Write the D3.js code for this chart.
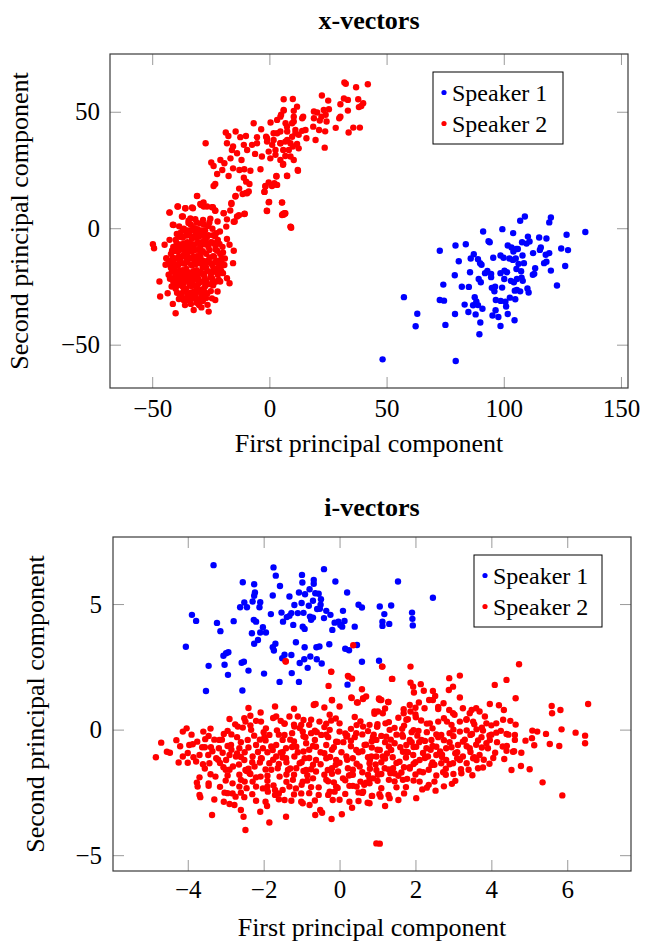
<!DOCTYPE html>
<html><head><meta charset="utf-8">
<script src="https://cdn.jsdelivr.net/npm/d3@7"></script>
<style>
body{margin:0;background:#fff}
svg{display:block}
text{font-family:"Liberation Serif","Times New Roman",serif;fill:#000}
</style>
</head><body><svg id="c" width="649" height="941"></svg>
<script>
const seriesNames = ["Speaker 1", "Speaker 2"];
const seriesColors = ["#0000ff", "#ff0000"];
const xvecTicksX = [-50, 0, 50, 100, 150];
const xvecTicksY = [-50, 0, 50];
const ivecTicksX = [-4, -2, 0, 2, 4, 6];
const ivecTicksY = [-5, 0, 5];

const xvecSpeaker1 = [[109,5],[107,3.2],[120.1,4.6],[119.4,2.5],[91.2,-1.4],[99.4,-0.4],[104,-2.1],[134.8,-1.6],[126.8,-2.8],[110.3,-3.6],[115.1,-4],[118.2,-4.4],[107.8,-6],[111,-5.7],[109.7,-6.6],[93.5,-5.6],[94,-6],[79.4,-7.4],[83.8,-6.9],[72.7,-9.7],[101.7,-7.4],[103.3,-8.3],[105.3,-8.9],[106,-8.9],[104.1,-10],[115.8,-8.3],[115.4,-9.3],[124.5,-8.7],[127.4,-9.4],[112.5,-10.7],[117.9,-11.4],[119.4,-10.7],[108,-11.7],[87.2,-11.2],[85.9,-13],[89,-13.3],[89.9,-15],[90.5,-15.7],[95.5,-12.7],[98.6,-11.7],[99.9,-12.7],[102.4,-13],[103.9,-13.6],[105.1,-13],[106.3,-15.3],[108.6,-15],[117.2,-15],[118.2,-14.4],[126.2,-16.2],[80.8,-14.2],[113.4,-17.2],[120.1,-18.2],[112.4,-20],[113,-19.6],[85.6,-18.9],[79.1,-20.2],[92,-19.3],[93,-18.3],[94.6,-19.6],[98.6,-19.3],[100.3,-18.2],[101.4,-18.9],[105.4,-17.5],[107.4,-18.5],[89.3,-21.8],[90.2,-23.2],[94.6,-21],[100.2,-21.8],[103,-22.6],[104.3,-23.2],[105.6,-21.8],[107.6,-21.2],[108.1,-22.6],[74.2,-24.2],[82.1,-25.1],[85.1,-25.2],[94.9,-25.6],[96.3,-25.1],[99.3,-25.5],[104.7,-26.8],[105.6,-26.5],[107,-27.1],[110.1,-25.9],[110.6,-27.6],[122.7,-24.6],[96,-27.1],[57.4,-29.6],[72.7,-30.8],[74.5,-31.1],[87.6,-29.6],[88.3,-31.4],[96.6,-30.8],[98.7,-31.2],[100.7,-31.6],[102.6,-29.8],[104.9,-30.5],[83.3,-32.8],[86.9,-33.1],[89,-33],[90.9,-34.6],[101,-33.6],[96.5,-35.2],[84.9,-36],[88,-37],[63.1,-36.7],[79.2,-36.8],[95.2,-37.5],[97.7,-38.1],[101.7,-36.8],[104.6,-39.5],[62.4,-42.1],[75.1,-41.5],[90,-40.5],[98.6,-42],[89.6,-45.5],[48.3,-56.3],[79.5,-57]];

const xvecSpeaker2 = [
[-30.8,13.9],[-42.6,6.8],[-39,9.3],[-35.8,8.6],[-33,8.9],[-29.1,10],[-28.1,11.1],[-26.6,9.3],[-24.1,9],[-23.1,7.6],[-19.5,6.5],[-16.2,10.8],[-16.7,7.6],[-14.4,13.9],[-13,5.6],[-10.5,6.2],[-10,15.1],[-8.8,15.8],[-2.1,15.6],[-0.1,11.3],[-1.1,7.5],[5.4,11.1],[6,5.8],[9.1,0.5],[6.6,6.2],[-41.2,1.5],[-36.9,5],[-34.5,2.2],[-31.6,3.9],[-28.3,3.6],[-25.6,2.5],[-22.1,2.9],[-18.4,0.7],[-14.8,2.9],[-21.1,-1.4],[-22.7,-2.1],[-18.1,-4.6],[-17,-7.1],[-15.2,-9.7],[-15.5,-15],[-21,-16.5],[-19.8,-19.3],[-18.1,-21.5],[-17,-23.6],[-21,-22.9],[-23.1,-30.8],[-26.4,-32.9],[-25.9,-35.8],[-32.3,-35.1],[-40,-36.5],[-41.2,-32.5],[-46.6,-29.3],[-46.9,-22.9],[-43.4,-27.9],[-49.7,-6.9],[-49.2,-8.6],[-44.7,-7.1],[-42.6,-5],[-44,-12.9],[-44.3,-15.7],[-41.6,-21.5],[-41.7,-25],[-36.6,-30.8],[-30.2,-31.5],[-24.5,-30.1],[-22.1,-27.2],
[-38,-2],[-35,-1],[-32,0],[-29,-1],[-26,1],[-24,-3],[-40,-5],[-37,-4],[-34,-3],[-31,-4],[-28,-3],[-25,-6],[-22,-5],[-41,-8],[-38,-7],[-35,-6],[-32,-7],[-29,-6],[-26,-8],[-23,-9],[-20,-8],[-42,-11],[-39,-10],[-36,-9],[-33,-10],[-30,-9],[-27,-11],[-24,-12],[-21,-11],[-43,-14],[-40,-13],[-37,-12],[-34,-13],[-31,-12],[-28,-14],[-25,-15],[-22,-14],[-19,-13],[-42,-17],[-39,-16],[-36,-15],[-33,-16],[-30,-15],[-27,-17],[-24,-18],[-21,-17],[-43,-20],[-40,-19],[-37,-18],[-34,-19],[-31,-18],[-28,-20],[-25,-21],[-22,-20],[-41,-23],[-38,-22],[-35,-21],[-32,-22],[-29,-23],[-26,-24],[-23,-23],[-40,-26],[-37,-25],[-34,-24],[-31,-25],[-28,-26],[-25,-27],[-38,-29],[-35,-28],[-32,-27],[-29,-29],[-27,-30],[-34,-31],[-31,-32],[-36,-33],[-29,-34],[-33.5,-8.5],[-30.5,-13.5],[-35.5,-17.5],[-32.5,-20.5],[-29.5,-10.5],[-36.5,-11.5],[-26.5,-14.5],[-38.5,-20.5],[-39.5,-2.5],[-36.5,-6.5],[-33,-4.5],[-30,-2.5],[-27.5,-5],[-23.5,-6.5],[-41.5,-9.5],[-38.5,-13.5],[-35,-11],[-31.5,-15.5],[-28.5,-17],[-25.5,-12.5],[-22.5,-17.5],[-40.5,-17],[-37.5,-21],[-34.5,-22.5],[-30.5,-20],[-27,-22.5],[-24,-24.5],[-39,-24.5],[-35.5,-26],[-32.5,-24.5],[-29.5,-26.5],[-26.5,-28],[-36.5,-30],[-33,-29.5],[-30.5,-30.5],[-37,-1],[-33.5,1.5],[-30.5,-6],[-26,-3],
[-36.5,-0.2],[-33.2,-0.8],[-30.6,-0.4],[-27.4,-0.9],[-24.3,-0.2],[-38.4,-3.7],[-35.6,-3.2],[-32.4,-3.8],[-29.6,-3.3],[-26.7,-3.9],[-23.2,-3.4],[-39.6,-6.3],[-33.7,-6.8],[-30.3,-6.2],[-27.6,-6.9],[-24.4,-6.1],[-21.3,-6.7],[-40.4,-9.8],[-37.6,-9.2],[-34.3,-9.7],[-31.7,-9.3],[-28.4,-9.9],[-25.6,-9.4],[-22.3,-9.7],[-19.8,-10.4],[-41.3,-12.7],[-38.7,-12.2],[-35.4,-12.8],[-32.6,-12.3],[-29.4,-12.6],[-23.6,-12.2],[-20.4,-12.8],[-42.6,-15.3],[-39.4,-15.8],[-36.7,-15.2],[-33.4,-15.7],[-27.6,-15.4],[-24.3,-15.9],[-21.7,-15.2],[-19.2,-15.8],[-41.6,-18.7],[-38.3,-18.2],[-35.7,-18.8],[-32.3,-18.4],[-29.6,-18.9],[-26.4,-18.3],[-23.7,-18.7],[-20.6,-18.2],[-42.4,-21.7],[-39.6,-21.2],[-36.4,-21.8],[-33.6,-21.3],[-30.4,-21.7],[-27.6,-21.2],[-24.4,-21.6],[-21.6,-22.2],[-40.3,-24.7],[-37.7,-24.2],[-33.4,-24.8],[-30.6,-24.3],[-27.4,-24.9],[-24.6,-24.2],[-39.4,-27.7],[-36.6,-27.2],[-33.3,-27.6],[-30.7,-27.3],[-27.3,-27.8],[-38.6,-30.4],[-35.4,-30.8],[-32.7,-30.2],[-28.4,-31.2],[-34.5,3.2],[-31,2.4],[-28,1.6],[-38.5,0.8],[-25.2,4.1],
[-35,-2.3],[-31.5,-1.8],[-28,-2],[-39,-8.3],[-36,-7.8],[-33,-7.2],[-29.5,-7.8],[-26,-6.8],[-23,-7.4],[-41,-14.5],[-38,-14],[-35,-14.5],[-32,-14],[-29,-14.7],[-26,-13.8],[-23,-14.5],[-20.5,-14.2],[-40,-20.2],[-37,-19.8],[-34,-20.5],[-31,-20],[-28,-19.5],[-25,-19.8],[-22,-18.8],[-39.5,-23],[-36.5,-23.5],[-33,-23],[-30,-23.5],[-27,-23],[-24,-22.8],[-37.5,-28],[-34.5,-29],[-31.5,-28.5],[-28.5,-28.3],[-33.5,-32.5],[-30,-33],
[6.1,55.4],[10,55.5],[11.8,52.2],[6.1,50.5],[10.4,50.4],[5,48.7],[3.3,46.5],[-6.7,45.1],[0.5,45.4],[6.9,45.1],[10.4,45.8],[-3.5,42.5],[-18.6,41.1],[-17.5,39.6],[-14.4,41.5],[-12.4,39.1],[-10,39.6],[-5.3,39.1],[-1.4,39.3],[3.3,40.8],[7.6,41.5],[11.1,40.8],[-27.2,36.5],[-18.1,36.5],[-15.5,35.1],[-10.9,35.8],[-7.4,35.8],[-5.3,36.5],[-1,37.2],[1.2,35.8],[4.7,36.5],[7.6,37.9],[10,35.1],[-16,33.6],[-13.8,32.2],[-9.5,33.6],[-6.1,31.9],[-3.2,30.8],[-0.3,32.9],[2.6,31.5],[5.9,33.6],[9,30.8],[-24.8,28.2],[-23.8,26.7],[-20.9,29.3],[-19.2,27.9],[-16.6,30],[-11.9,29.3],[-3.8,25.3],[5.9,27.6],[12.1,25],[-22.3,23.3],[-20.1,25],[-17.4,22.4],[-15.5,25.7],[-12.8,25],[-10.7,25.3],[-8.1,24.7],[-10.9,21.7],[-9.9,20],[-8.5,19],[-23.1,19],[-23.8,18.1],[-12.9,17],[-11.4,14.7],[-9.5,15],[-14.5,13.6],[-16.2,10.4],[-1.7,17.9],[-0.3,19.6],[1.4,18.6],[3.3,18.6],[3,22.4],[7.6,22.4],[-2.1,15.7],[-0.3,11.1],[5.4,11],[5.4,5.7],[6.4,6.4],[-1,7.4],[9,0.7],[-30.9,13.8],[-39.2,9.3],[-35.9,8.6],[-32.6,8.6],[-29.5,10.4],[-28,9.3],[-24.5,9],[-23.1,7.5],[-19.5,6.4],[-18.1,3.8],[-15.2,2.8],[-13.8,5],[-10.7,6.1],[-42.6,6.7],[-40.9,1.4],[-37.3,5],[-33.7,4.2],[-29.5,2.1],
[32,62.6],[32.6,62],[37,60.5],[42,61.8],[22.4,57],[25.1,54.8],[31.8,55.7],[33.5,55.1],[37.9,55.4],[40,53.7],[38.2,52],[39.2,52.5],[30.3,53.2],[33.5,50.5],[19,50.1],[20.4,49.7],[23.2,50.8],[25.4,51.1],[24,48.7],[22.2,47.9],[21.5,46.2],[19,47.2],[14.4,47.9],[14,47.2],[30.3,47.9],[29.8,47.2],[24.4,45.8],[28.3,43.1],[18.7,43.6],[21.2,42.2],[23.8,41.6],[35.8,43.2],[38.6,43.2],[33.8,41.1],[15.4,42.2],[14,41.8],[12.5,40.1],[15.8,38.6],[19.7,37.9],[11.8,36.2],[12.5,34.3],[23.6,34.6],[9,36.5],[10.4,29.3],[12.2,24.7],[7.5,22.5],[5.8,27.2],[3,22.2],[2.1,19.3],[1.1,18.1],[-1.7,18.1],[5.8,6.1],[6.8,6.4],[9.3,0.2],[0.4,30],[2.6,33.6],[4.7,29.3],[6.8,31],[8.3,33.6],[-1,38.6],[1.8,37.9],[4.7,36.5],[6.8,37.2],[9.7,39.3],[11.1,42.2],[9.7,45.1],[7.5,43.6],[4.7,41.5],[1.8,40.8],[10.4,47.9],[4.7,47.9],[6.1,50.8]
];

const ivecSpeaker1 = [[-3.32,6.55],[-1.74,6.46],[-1.68,6.13],[-0.99,6.16],[-0.41,6.39],[-0.98,5.86],[-0.68,5.96],[-0.68,5.81],[-0.11,5.9],[1.54,5.9],[-2.55,5.87],[-2.25,5.79],[-1.57,5.72],[-2.23,5.46],[-2.25,5.33],[-2.29,5.1],[-2.09,5.07],[-2.11,4.87],[-2.51,5.06],[-2.62,4.87],[-2.44,4.87],[-1.76,5.34],[-1.32,5.3],[-1.07,5.46],[-0.91,5.39],[-1,5.04],[-1.19,4.96],[-0.79,5.59],[-0.64,5.43],[-0.55,5.41],[-0.7,5.13],[-0.49,5.19],[-0.5,4.97],[-0.59,4.8],[-0.52,4.81],[-0.81,4.93],[0.2,5.46],[0.5,4.97],[0.59,4.86],[1.06,4.9],[1.36,4.94],[-0.35,4.73],[-0.24,4.57],[0.09,4.73],[-0.41,4.44],[-3.89,4.57],[-3.78,4.33],[-3.23,4.25],[-2.79,4.32],[-3.14,3.92],[-1.81,4.6],[-1.53,4.66],[-1.27,4.64],[-1.1,4.64],[-0.95,4.65],[-1.39,4.48],[-1.32,4.53],[-1.49,4.3],[-0.78,4.5],[-0.7,4.46],[-0.75,4.37],[-2.26,4.37],[-2.2,4.3],[-2.02,4.08],[-2.09,3.87],[-1.94,3.87],[-2.31,3.84],[-1.22,4.17],[-0.97,4.1],[-0.92,4.01],[-0.19,3.97],[-0.13,4.26],[-0.03,4.3],[0.02,4.17],[0.07,4.1],[0.13,4.33],[0.4,4.1],[1.13,4.3],[1.13,4.13],[1.31,4.21],[-2.15,3.57],[-2.25,3.42],[-4.05,3.3],[-2.93,3.08],[-2.99,3.04],[-3.06,2.94],[-1.69,3.42],[-1.76,3.28],[-1.73,3.15],[-1.15,3.48],[-0.92,3.28],[-0.61,3.28],[-0.53,3.31],[-0.27,3.4],[0.15,3.22],[0.25,3.16],[0.46,3.37],[-1.27,2.97],[-1.45,2.98],[-1.51,2.84],[-0.77,2.91],[-0.93,2.8],[-1.05,2.65],[-0.6,2.8],[-0.47,2.63],[-0.84,2.46],[0.59,2.7],[1.04,2.74],[-3.45,2.54],[-3.03,2.58],[-2.58,2.66],[-2.52,2.7],[-2.4,2.35],[-2.94,2.18],[-1.99,2.23],[-1.26,2.25],[-1.58,1.9],[-1.07,1.9],[0.21,1.79],[-3.52,1.54],[-2.56,1.56],[2.46,5.25],[1.91,4.66],[1.92,4.41],[1.93,4.15],[1.18,4.6]];

const ivecSpeaker2 = [
[0.36,3.36],[-1.42,2.72],[1.13,2.51],[-0.22,2.3],[0.24,2.11],[0.33,2.03],[1.38,2.02],[-0.29,1.74],[0.59,1.61],[0.32,1.26],[0.62,1.22],[0.7,1.32],[0.46,1.08],[-0.2,1.17],[1.04,1.24],[1.07,1.18],[1.28,1.1],[-1.7,0.92],[-0.68,0.98],[-0.63,1.02],[0,0.92],[1.12,2.51],
[-1.42,2.71],[-0.22,2.31],[0.22,2.14],[-2.08,0.68],[-0.66,1.01],[-0.2,1.18],[0.31,1.28],[0.48,1.08],[0.62,1.25],[0.92,0.72],[0.99,0.12],[-4.13,-0.08],[-4.03,0.05],[-4.7,-0.52],[-4.84,-1.1],[-4.47,-0.92],[-4.24,-1.31],[-4.13,-1.07],[-3.96,-0.61],[-3.87,-0.58],[-3.78,-1.27],[-3.69,-1.01],[-3.62,-0.7],[-3.59,-0.08],[-3.54,-0.38],[-3.46,-1.01],[-3.43,-1.34],[-3.39,-0.7],[-3.76,-2.11],[-3.74,-2.27],[-3.69,-1.9],[-3.69,-2.6],[-3.67,-2.69],[-3.45,-2.14],[-3.45,-2.24],[-3.27,-1.87],[-3.36,-3.4],[-3.05,-0.17],[-3.17,-0.41],[-3.18,-0.74],[-3.08,-0.92],[-2.99,-1.21],[-3.06,-1.5],[-3.03,-2.51],[-3.05,-2.87],[-2.9,-2.96],[-2.77,-3],[-2.82,-2.54],[-2.74,-2.67],[-2.6,-2.51],[-2.51,-2.69],[-2.6,-3.2],[-2.53,-3.47],[-2.48,-4],[-2.68,0.12],[-2.51,0.45],[-2.48,0.32],[-2.33,-0.01],[-2.42,-0.41],[-2.07,0.32],[-1.94,0.05],[-1.98,-0.3],[-1.85,-0.21],[-2.2,-0.61],[-2.64,-0.74],[-2.86,-0.61],[-2.9,-1.01],[-2.73,-1.07],[-2.51,-1.21],[-2.29,-1.07],[-2.07,-1.14],[-2.81,-1.47],[-2.64,-1.8],[-2.48,-1.61],[-2.82,-2.14],[-2.64,-2.27],[-2.29,-2.07],[-2.2,-2.27],[-2.08,-1.87],[-2.02,-2.34],[-1.89,-2.47],[-1.95,-2.87],[-1.91,-3.04],[-2.09,-3.27],[-1.85,-3.7],[-1.74,-2.22],[-1.7,-2.6],[-1.5,-2.4],[-1.45,-2.8],[-1.27,-2.83],[-1.41,-3.47],[-1.01,-2.54],[-1.01,-2.87],[-0.79,-3],[-0.97,-2.93],[-0.64,-3.4],[-0.51,-3.2],[-0.46,-3.31],[-0.21,-3.56],[0.06,-3.37],[-0.18,-2.8],[-0.55,-2.3],[-0.55,-2.6],[-0.26,-2.47],[-0.13,-2.47],[0.26,-2.87],[0.33,-3.11],[0.74,-2.91],[0.85,-2.64],[0.62,-2.47],[0.35,-2.24],[0.26,-2.24],[0.79,-1.94],[0.7,-2.11],[1.01,-1.8],[0.97,-4.53],[-1.67,0.52],[-1.45,0.25],[-1.32,0.52],[-1.1,0.52],[-1.19,0.12],[-1.01,0.19],[-0.75,0.39],[-0.53,0.32],[-0.26,0.59],[-0.22,0.36],[0,0.25],[0,-0.08],[-0.26,-0.01],[-0.48,-0.21],[-0.75,-0.14],[-0.97,-0.08],[-1.25,-0.14],[-1.5,-0.41],[-1.67,-0.61],[-1.41,-0.74],[-1.14,-0.68],[-0.88,-0.54],[-0.62,-0.68],[-0.35,-0.61],[-0.09,-0.48],[0.18,-0.28],[0.44,-0.14],[0.62,0.12],[0.79,0.19],[0.97,-0.41],[0.66,-0.61],[0.44,-0.81],[0.18,-1.07],[-0.09,-1.21],[-0.35,-1.14],[-0.62,-1.21],[-0.92,-1.14],[-1.19,-1.07],[-1.41,-1.14],[-1.67,-1.07],[-1.85,-1.34],[-1.63,-1.54],[-1.36,-1.61],[-1.14,-1.54],[-0.88,-1.61],[-0.62,-1.67],[-0.31,-1.61],[-0.04,-1.67],[0.22,-1.54],[0.53,-1.47],[0.79,-1.34],[0.97,-1.07],[-2.24,-1.47],[-2.37,-1.74],[-1.58,-1.87],[-1.23,-2],[-0.97,-2.07],[-0.7,-1.94],[-0.35,-2],[0.09,-1.94],[0.35,-1.8],[-1.32,-2.27],[-0.09,-2.27],[-1.76,-0.81],[-2.02,-0.74],
[4.73,2.6],[1.87,2.51],[1.39,2.02],[2.89,2.05],[3.17,2.15],[4.09,1.78],[4.4,1.98],[1.87,1.87],[1.94,1.71],[2.14,1.81],[2.22,1.55],[1.96,1.48],[2.46,1.54],[2.52,1.34],[2.46,1.18],[2.36,1.18],[2.88,1.58],[2.99,1.71],[3.17,1.28],[4.64,1.25],[5.59,0.94],[5.82,0.78],[5.6,0.65],[6.55,1.02],[1.04,1.21],[1.1,1.18],[1.29,1.1],[1.85,0.98],[2.09,1.08],[1.69,0.81],[1.69,0.65],[1.87,0.72],[2.24,0.85],[2.74,1.05],[2.89,0.78],[2.99,0.65],[3.25,0.85],[3.43,0.65],[3.48,0.78],[3.69,0.72],[3.96,1.02],[4.2,0.97],[4.33,0.78],[0.92,0.63],[1.14,0.65],[1.01,0.72],[1.21,0.25],[1.32,-0.01],[0.99,0.12],[1.76,0.39],[2.01,0.49],[1.8,0.41],[1.65,0.03],[2.08,-0.05],[2.38,0.25],[2.6,0.32],[2.83,0.32],[3.03,0.59],[3.17,0.32],[3.34,0.39],[3.52,0.32],[3.83,0.52],[3.87,0.25],[4.13,0.25],[4.31,0.39],[4.64,0.2],[0.88,-0.3],[1.23,-0.28],[1.67,-0.28],[1.85,-0.41],[2.16,-0.41],[2.42,-0.41],[2.68,-0.21],[2.9,-0.14],[3.17,-0.08],[3.49,-0.17],[3.74,-0.3],[3.96,-0.41],[3.61,0.01],[3.78,-0.04],[4.13,-0.12],[4.4,-0.17],[4.62,-0.21],[4.62,-0.41],[5.08,-0.04],[5.21,-0.08],[5.07,-0.34],[5.44,-0.17],[5.85,0.01],[6.22,-0.12],[6.47,-0.24],[6.47,-0.54],[5.54,-0.57],[5.13,-0.62],[5.79,-0.65],[4.41,-0.65],[4.4,-0.84],[4.57,-0.88],[4.79,-0.92],[4.34,-1.17],[4.78,-1.45],[5.01,-1.58],[4.53,-1.61],[5.35,-2.1],[5.87,-2.62],[3.78,-1.51],[3.21,-1.74],[2.96,-2.16],[2.73,-1.7],[2.53,-2.43],[2.18,-2.38],[2.02,-2.73],[2.11,-2.07],[2.11,-1.67],[1.85,-1.5],[1.67,-2],[1.78,-1.96],[1.63,-1.71],[1.34,-1.74],[1.19,-1.54],[1.41,-1.54],[0.97,-1.61],[0.88,-1.94],[0.86,-2.64],[1.08,-2.67],[1.29,-2.6],[1.32,-2.73],[1.2,-3.04],[1.06,-4.54],[0.79,-2.93],[0.79,-2.14],[0.84,-1.07],[1.06,-0.81],[1.36,-0.81],[1.67,-0.88],[1.94,-1.01],[2.11,-1.21],[2.33,-1.07],[2.55,-1.01],[2.81,-1.21],[2.99,-1.34],[3.25,-1.07],[3.52,-1.14],[3.69,-1.01],[3.91,-0.74],[3.87,-0.54],[3.43,-0.74],[3.12,-0.61],[2.81,-0.74],[2.55,-0.68],[2.29,-0.74],[2.02,-0.68],[1.76,-0.61],[1.45,-0.54],[1.14,-1.07],[1.58,-1.28],[2.42,-1.41],[2.68,-1.34],[3.17,-1.21],[3.61,-1.21],
[-2.7,-0.3],[-2.5,-0.9],[-2.3,-1.3],[-2.1,-0.4],[-1.9,-0.9],[-1.8,-1.6],[-1.6,-0.2],[-1.5,-0.9],[-1.4,-1.3],[-1.3,-0.4],[-1.2,-1.8],[-1.1,-0.9],[-1,-1.3],[-0.9,-0.3],[-0.8,-0.8],[-0.7,-1.4],[-0.6,-0.1],[-0.5,-0.9],[-0.4,-1.8],[-0.3,-0.3],[-0.2,-0.8],[-0.1,-1.4],[0.1,-0.5],[0.2,-1.2],[0.3,-1.8],[0.4,-0.3],[0.5,-0.9],[0.6,-1.7],[0.7,-0.6],[0.8,-1.2],[0.9,-0.2],[1,-0.8],[1.1,-1.3],[1.2,-0.5],[1.3,-2],[1.4,-1.1],[1.5,-0.2],[1.6,-0.7],[1.7,-1.5],[1.8,-0.9],[1.9,-0.1],[2,-1.3],[2.1,-0.5],[2.2,-1.7],[2.3,-0.1],[2.4,-0.8],[2.5,-1.4],[2.6,-0.3],[2.7,-1],[2.8,-1.8],[2.9,-0.5],[3,0],[3.1,-0.9],[3.3,-0.4],[3.4,-1.6],[3.6,-0.6],[3.8,-1.2],[4,-0.2],[-3.2,-1.2],[-3.3,-0.4],[-2.9,-1.6],[-2.6,-2],[-2.2,-1.9],[-1.7,-2.4],[-1,-2.2],[-0.3,-2.6],[0.5,-2.5],[1.5,-2.3],[-2,-0.1],[-1.2,0.2],[-0.4,0.1],[0.4,0.5],[1.3,0.3],[2,0.6],[2.6,0.9],[-2.85,-0.8],[-2.45,-1.65],[-1.75,-1.2],[-0.95,-1.65],[-0.15,-2.1],[0.65,-2.2],[1.45,-1.75],[2.35,-2.2],[0.15,-0.15],[-1.55,0.35],[-2.35,0.55],
[-2.9,0.42],[-2.2,0.35],[-1.75,0.46],[-0.95,0.38],[-0.1,0.44],[0.55,0.33],[1.55,0.47],[2.15,0.36],[2.75,0.45],[3.35,0.41],[4.5,0.35],[-3.4,0.04],[-2.95,-0.05],[-2.55,0.08],[-1.65,-0.03],[-1.05,0.06],[-0.65,-0.04],[0.3,0.03],[0.75,-0.06],[1.45,0.07],[1.95,-0.02],[2.45,0.05],[3.35,-0.03],[3.75,0.08],[4.25,-0.05],[-4.3,-0.42],[-3.75,-0.48],[-3.1,-0.4],[-2.6,-0.5],[-1.95,-0.43],[-1.2,-0.47],[-0.65,-0.41],[-0.05,-0.49],[0.3,-0.44],[0.85,-0.46],[1.35,-0.4],[1.9,-0.5],[2.25,-0.45],[2.75,-0.42],[3.25,-0.48],[3.65,-0.43],[4.15,-0.5],[4.9,-0.44],[-4.55,-0.88],[-4,-0.93],[-3.35,-0.86],[-2.7,-0.95],[-2.15,-0.89],[-1.55,-0.92],[-0.95,-0.87],[-0.4,-0.94],[0.05,-0.9],[0.6,-0.86],[1.25,-0.95],[1.75,-0.88],[2.2,-0.93],[2.65,-0.87],[3.05,-0.94],[3.45,-0.89],[4.1,-0.92],[4.6,-0.86],[-4,-1.32],[-3.6,-1.38],[-3.15,-1.33],[-2.65,-1.39],[-2.1,-1.31],[-1.6,-1.37],[-1.05,-1.34],[-0.5,-1.38],[0,-1.32],[0.45,-1.36],[0.95,-1.39],[1.5,-1.33],[1.95,-1.37],[2.45,-1.31],[2.9,-1.38],[3.35,-1.34],[3.95,-1.36],[-3.4,-1.78],[-2.95,-1.83],[-2.35,-1.77],[-1.9,-1.84],[-1.4,-1.79],[-0.85,-1.82],[-0.2,-1.76],[0.25,-1.83],[0.75,-1.8],[1.1,-1.77],[1.55,-1.84],[2,-1.79],[2.55,-1.83],[3,-1.77],[3.5,-1.82],[-3.15,-2.28],[-2.45,-2.33],[-1.9,-2.27],[-1.15,-2.34],[-0.75,-2.29],[-0.05,-2.32],[0.45,-2.27],[1.1,-2.33],[1.75,-2.29],[2.3,-2.31],[2.75,-2.26],[-3.3,-2.78],[-2.2,-2.83],[-1.6,-2.77],[-0.65,-2.82],[0,-2.79],[0.5,-2.84],[1.55,-2.8],[-2.4,0.86],[-1.2,0.83],[-0.4,0.88],[1.2,0.84],[2,0.87],[2.6,0.82],[3.6,0.85],
[-2.75,0.21],[-2.35,0.17],[-1.45,0.23],[-0.8,0.19],[-0.35,0.24],[0.45,0.18],[1,0.22],[1.7,0.16],[2.3,0.24],[2.95,0.19],[3.55,0.21],[4,0.17],[-3.9,-0.2],[-3.45,-0.25],[-2.85,-0.19],[-2.25,-0.24],[-1.45,-0.21],[-0.95,-0.26],[-0.35,-0.2],[0.2,-0.23],[0.6,-0.19],[1.1,-0.25],[1.65,-0.21],[2.05,-0.24],[2.55,-0.19],[3,-0.26],[3.45,-0.21],[3.95,-0.23],[4.45,-0.2],[-4.2,-0.66],[-3.55,-0.7],[-2.95,-0.65],[-2.4,-0.71],[-1.8,-0.67],[-1.25,-0.69],[-0.7,-0.65],[-0.15,-0.7],[0.3,-0.66],[0.85,-0.71],[1.3,-0.67],[1.95,-0.69],[2.45,-0.65],[2.95,-0.7],[3.35,-0.66],[3.75,-0.71],[4.3,-0.67],[-3.85,-1.1],[-3.25,-1.14],[-2.6,-1.09],[-2.05,-1.15],[-1.5,-1.11],[-0.8,-1.13],[-0.25,-1.09],[0.35,-1.14],[0.75,-1.1],[1.2,-1.15],[1.75,-1.11],[2.25,-1.13],[2.7,-1.09],[3.1,-1.14],[3.55,-1.1],[4.05,-1.13],[-3.55,-1.55],[-3,-1.6],[-2.4,-1.56],[-1.95,-1.59],[-1.3,-1.55],[-0.75,-1.58],[-0.2,-1.54],[0.35,-1.6],[0.8,-1.56],[1.3,-1.59],[1.85,-1.55],[2.35,-1.6],[2.8,-1.56],[3.2,-1.58],[3.65,-1.54],[-3,-2.03],[-2.5,-2.07],[-1.9,-2.04],[-1.4,-2.08],[-0.85,-2.03],[-0.3,-2.06],[0.15,-2.02],[0.55,-2.07],[1,-2.04],[1.45,-2.06],[1.95,-2.03],[2.5,-2.07],[3.05,-2.04],[-2.95,-2.53],[-2.3,-2.57],[-1.6,-2.54],[-1.2,-2.58],[-0.8,-2.53],[0.15,-2.56],[0.6,-2.52],[1.05,-2.57],[1.7,-2.54]
];

const panels = [
  {title: "x-vectors", s1: xvecSpeaker1, s2: xvecSpeaker2, xTicks: xvecTicksX, yTicks: xvecTicksY,
   xDomain: [-68, 153], yDomain: [-68.6, 74.8], box: {l: 110, t: 54, r: 628, b: 388},
   titleY: 29, xTickY: 29, yTickPad: 10, xLabelY: 452, yLabelX: 28,
   legend: {x: 433, y: 72, w: 130, h: 72}},
  {title: "i-vectors", s1: ivecSpeaker1, s2: ivecSpeaker2, xTicks: ivecTicksX, yTicks: ivecTicksY,
   xDomain: [-5.97, 7.68], yDomain: [-5.63, 7.67], box: {l: 113, t: 537, r: 631, b: 871},
   titleY: 516, xTickY: 27, yTickPad: 11, xLabelY: 936, yLabelX: 44,
   legend: {x: 474, y: 555, w: 128, h: 72}}
];

const FONT = "'Liberation Serif', 'Times New Roman', Times, serif";
const svg = d3.select("#c");
const TICK_FS = 25, LABEL_FS = 26, LEGEND_FS = 24, TITLE_FS = 26;

function styleAxis(sel) {
  sel.attr("font-size", TICK_FS).attr("font-family", FONT);
  sel.select(".domain").remove();
  sel.selectAll(".tick line").attr("stroke", "#9a9a9a").attr("stroke-width", 1);
  sel.selectAll(".tick text").attr("font-family", FONT).attr("fill", "#000");
}

panels.forEach(p => {
  const b = p.box;
  const x = d3.scaleLinear().domain(p.xDomain).range([b.l, b.r]);
  const y = d3.scaleLinear().domain(p.yDomain).range([b.b, b.t]);
  const g = svg.append("g").attr("font-family", FONT);
  const fmt = d3.format("");

  g.append("g").attr("transform", `translate(0,${b.b})`)
    .call(d3.axisBottom(x).tickValues(p.xTicks).tickSizeInner(-11).tickSizeOuter(0).tickFormat(fmt))
    .call(styleAxis)
    .selectAll("text").attr("y", p.xTickY).attr("dy", null);
  g.append("g").attr("transform", `translate(0,${b.t})`)
    .call(d3.axisTop(x).tickValues(p.xTicks).tickSizeInner(-11).tickSizeOuter(0).tickFormat(() => ""))
    .call(styleAxis);
  g.append("g").attr("transform", `translate(${b.l},0)`)
    .call(d3.axisLeft(y).tickValues(p.yTicks).tickSizeInner(-11).tickSizeOuter(0).tickPadding(p.yTickPad).tickFormat(fmt))
    .call(styleAxis)
    .selectAll("text").attr("x", -p.yTickPad);
  g.append("g").attr("transform", `translate(${b.r},0)`)
    .call(d3.axisRight(y).tickValues(p.yTicks).tickSizeInner(-11).tickSizeOuter(0).tickFormat(() => ""))
    .call(styleAxis);

  [p.s1, p.s2].forEach((data, i) => {
    g.append("g").selectAll("circle").data(data).join("circle")
      .attr("cx", d => x(d[0])).attr("cy", d => y(d[1])).attr("r", 3.2)
      .attr("fill", seriesColors[i]);
  });

  g.append("rect").attr("x", b.l).attr("y", b.t).attr("width", b.r - b.l).attr("height", b.b - b.t)
    .attr("fill", "none").attr("stroke", "#3a3a3a").attr("stroke-width", 1.2);

  g.append("text").attr("x", (b.l + b.r) / 2).attr("y", p.titleY).attr("text-anchor", "middle")
    .attr("font-family", FONT).attr("font-size", TITLE_FS).attr("font-weight", "bold").text(p.title);
  g.append("text").attr("x", (b.l + b.r) / 2).attr("y", p.xLabelY).attr("text-anchor", "middle")
    .attr("font-family", FONT).attr("font-size", LABEL_FS).text("First principal component");
  g.append("text").attr("transform", `translate(${p.yLabelX},${(b.t + b.b) / 2}) rotate(-90)`)
    .attr("text-anchor", "middle").attr("font-family", FONT).attr("font-size", LABEL_FS).text("Second principal component");

  const L = p.legend;
  const lg = g.append("g").attr("transform", `translate(${L.x},${L.y})`);
  lg.append("rect").attr("width", L.w).attr("height", L.h).attr("fill", "#fff")
    .attr("stroke", "#000").attr("stroke-width", 1);
  seriesNames.forEach((name, i) => {
    const cy = 20.5 + i * 31;
    lg.append("circle").attr("cx", 11).attr("cy", cy).attr("r", 2.6).attr("fill", seriesColors[i]);
    lg.append("text").attr("x", 19).attr("y", cy + 8).attr("font-family", FONT)
      .attr("font-size", LEGEND_FS).text(name);
  });
});
</script>
</body></html>
